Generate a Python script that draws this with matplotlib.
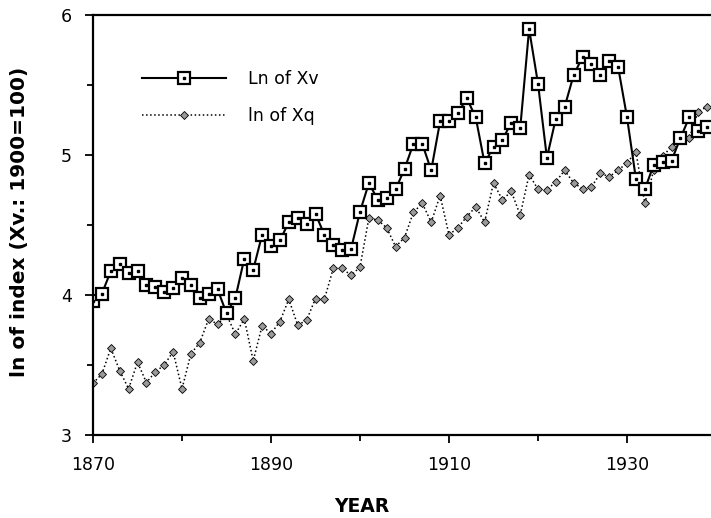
import numpy as np
import matplotlib
matplotlib.use('Agg')
import matplotlib.pyplot as plt

years = list(range(1870, 1940))

ln_xv = [3.96, 4.01, 4.17, 4.22, 4.155, 4.17, 4.07, 4.06, 4.02, 4.05,
         4.12, 4.07, 3.98, 4.01, 4.04, 3.87, 3.98, 4.26, 4.18, 4.43,
         4.35, 4.39, 4.52, 4.55, 4.51, 4.58, 4.43, 4.36, 4.32, 4.33,
         4.595, 4.80, 4.68, 4.695, 4.755, 4.90, 5.08, 5.08, 4.89, 5.24,
         5.24, 5.30, 5.405, 5.27, 4.94, 5.06, 5.11, 5.23, 5.19, 5.90,
         5.51, 4.98, 5.26, 5.345, 5.57, 5.70, 5.65, 5.57, 5.67, 5.63,
         5.27, 4.83, 4.755, 4.93, 4.95, 4.96, 5.12, 5.27, 5.17, 5.20]

ln_xq = [3.37, 3.435, 3.62, 3.46, 3.33, 3.52, 3.375, 3.45, 3.50, 3.595,
         3.33, 3.58, 3.66, 3.83, 3.79, 3.86, 3.72, 3.83, 3.53, 3.78,
         3.725, 3.81, 3.97, 3.785, 3.82, 3.975, 3.97, 4.19, 4.19, 4.14,
         4.20, 4.55, 4.535, 4.48, 4.345, 4.41, 4.59, 4.655, 4.52, 4.71,
         4.43, 4.48, 4.56, 4.63, 4.52, 4.80, 4.68, 4.74, 4.57, 4.86,
         4.755, 4.75, 4.81, 4.89, 4.80, 4.76, 4.77, 4.87, 4.845, 4.89,
         4.945, 5.02, 4.655, 4.89, 4.99, 5.06, 5.14, 5.12, 5.31, 5.345]

labels = ['Ln of Xv', 'ln of Xq']
x_major = [1870, 1890, 1910, 1930]
x_minor = [1880, 1900, 1920]
y_major = [3, 4, 5, 6]
y_minor = [3.5, 4.5, 5.5]

plt.rcParams['font.family'] = ['DejaVu Sans']

fig = plt.figure(figsize=(7.11, 5.18), dpi=100)
# axes runs a little past the right edge, as in the scan
ax = fig.add_axes([93/711, 83/518, 623/711, 420/518])

xq_line, = ax.plot(years, ln_xq, linestyle=':', color='black', lw=1.1,
                   marker='D', ms=4.5, mfc='#9a9a9a', mec='black', mew=0.6)
xv_line, = ax.plot(years, ln_xv, linestyle='-', color='black', lw=1.5,
                   marker='s', ms=8, mfc='white', mec='black', mew=1.6)
xv_dots, = ax.plot(years, ln_xv, linestyle='none', marker='s', ms=1.8,
                   mfc='black', mec='black')

ax.set_xlim(1870, 1940)
ax.set_ylim(3, 6)
ax.set_xticks(x_major)
ax.set_xticks(x_minor, minor=True)
ax.set_yticks(y_major)
ax.set_yticks(y_minor, minor=True)
ax.tick_params(which='major', length=6, width=1.3, labelsize=12.5, pad=9, direction='out')
ax.tick_params(which='minor', length=4, width=1.3, direction='out')
for s in ['left', 'bottom', 'top']:
    ax.spines[s].set_linewidth(1.6)
ax.spines['right'].set_visible(False)

ax.legend([(xv_line, xv_dots), xq_line], labels, loc='upper left',
          bbox_to_anchor=(0.079, 0.87), frameon=False, fontsize=12.5,
          handlelength=4.8, handletextpad=1.3, labelspacing=1.1,
          borderpad=0, borderaxespad=0, numpoints=1)

fig.text(20/711, 1 - 222/518, 'ln of index (Xv.: 1900=100)', rotation=90,
         ha='center', va='center', fontsize=14.5, fontweight='bold')
fig.text(362/711, 1 - 506/518, 'YEAR', ha='center', va='center',
         fontsize=13.5, fontweight='bold')

fig.savefig('out.png', dpi=100)
